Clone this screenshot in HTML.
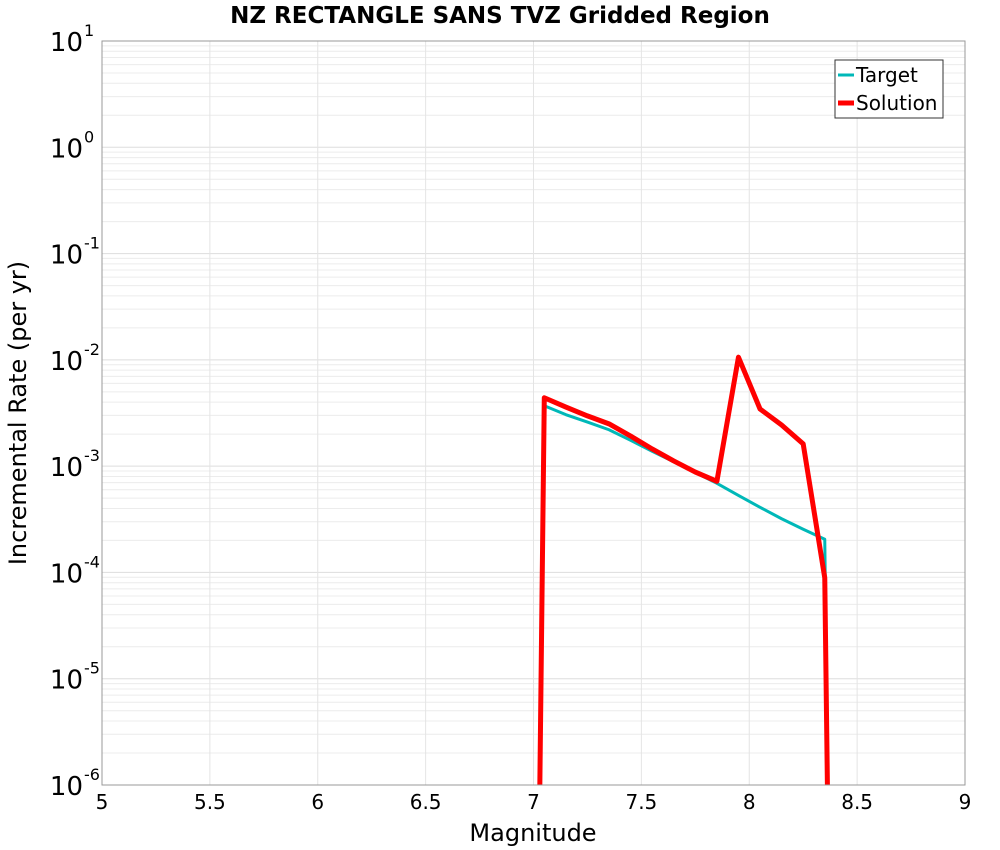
<!DOCTYPE html>
<html><head><meta charset="utf-8"><style>
html,body{margin:0;padding:0;background:#fff;overflow:hidden;width:1000px;height:850px;font-family:"Liberation Sans","DejaVu Sans",sans-serif}
svg{display:block}
</style></head><body>
<svg width="1000" height="850" xmlns="http://www.w3.org/2000/svg">
<defs><clipPath id="pc"><rect x="102" y="41" width="863" height="744"/></clipPath></defs>
<rect width="1000" height="850" fill="#fff"/>
<text x="500" y="23" text-anchor="middle" font-size="23" font-weight="bold" font-family="DejaVu Sans, sans-serif">NZ RECTANGLE SANS TVZ Gridded Region</text>
<g id="grid"></g>
<g id="series" clip-path="url(#pc)"></g>
<rect x="102" y="41" width="863" height="744" fill="none" stroke="#999" stroke-width="1"/>
<g id="ticks" font-family="DejaVu Sans, sans-serif"></g>
<text x="533" y="841" text-anchor="middle" font-size="24" font-family="DejaVu Sans, sans-serif">Magnitude</text>
<text transform="translate(26,413) rotate(-90)" text-anchor="middle" font-size="24" font-family="DejaVu Sans, sans-serif">Incremental Rate (per yr)</text>
<g font-family="DejaVu Sans, sans-serif">
<rect x="835" y="60" width="108" height="58" fill="#fff" stroke="#333" stroke-width="1"/>
<line x1="838" y1="75" x2="854" y2="75" stroke="#00b8b8" stroke-width="3"/>
<text x="856" y="82" font-size="20">Target</text>
<line x1="838" y1="103" x2="854" y2="103" stroke="#ff0000" stroke-width="5"/>
<text x="856" y="110" font-size="20">Solution</text>
</g>
</svg>
<script>
const mags=[6.95,7.05,7.15,7.25,7.35,7.45,7.55,7.65,7.75,7.85,7.95,8.05,8.15,8.25,8.35,8.45];
const targetVals=[1e-20,3.7e-3,3.05e-3,2.6e-3,2.2e-3,1.75e-3,1.38e-3,1.1e-3,8.7e-4,6.9e-4,5.3e-4,4.1e-4,3.2e-4,2.55e-4,2.05e-4,1e-20];
const solutionVals=[1e-20,4.4e-3,3.6e-3,2.97e-3,2.5e-3,1.92e-3,1.45e-3,1.12e-3,8.8e-4,7.2e-4,1.06e-2,3.45e-3,2.44e-3,1.62e-3,8.9e-5,1e-20];
const xTicks=["5","5.5","6","6.5","7","7.5","8","8.5","9"];
const yExps=[1,0,-1,-2,-3,-4,-5,-6];
const NS="http://www.w3.org/2000/svg";
const X0=102,X1=965,Y0=41,Y1=785;
const xs=m=>X0+(m-5)/4*(X1-X0);
const ys=v=>Y0+(1-Math.log10(v))/7*(Y1-Y0);
function mk(t,a,p){const e=document.createElementNS(NS,t);for(const k in a)e.setAttribute(k,a[k]);p.appendChild(e);return e;}
const grid=document.getElementById('grid'),ticks=document.getElementById('ticks'),ser=document.getElementById('series');
for(let d=-6;d<1;d++)for(let k=1;k<10;k++){const y=ys(k*Math.pow(10,d));
const l=mk('line',{x1:X0,x2:X1,y1:y,y2:y,stroke:k==1?'#ddd':'#ececec','stroke-width':1},grid);

}
xTicks.forEach(t=>{const x=xs(+t);
const l=mk('line',{x1:x,x2:x,y1:Y0,y2:Y1,stroke:'#e4e4e4','stroke-width':1},grid);


const tx=mk('text',{x:x,y:809,'text-anchor':'middle','font-size':20},ticks);tx.textContent=t;

});
yExps.forEach(e=>{const y=ys(Math.pow(10,e));
const tx=mk('text',{x:83,y:y+10,'text-anchor':'end','font-size':26},ticks);tx.textContent='10';


const sp=mk('text',{x:84,y:y-5,'font-size':16},ticks);sp.textContent=String(e);

});
function line(vals,col,w,name){const pts=mags.map((m,i)=>xs(m)+','+ys(vals[i])).join(' ');
const p=mk('polyline',{points:pts,fill:'none',stroke:col,'stroke-width':w,'stroke-linejoin':'round'},ser);

}
line(targetVals,'#00b8b8',3,'target-line');
line(solutionVals,'#ff0000',5,'solution-line');
</script>
</body></html>
